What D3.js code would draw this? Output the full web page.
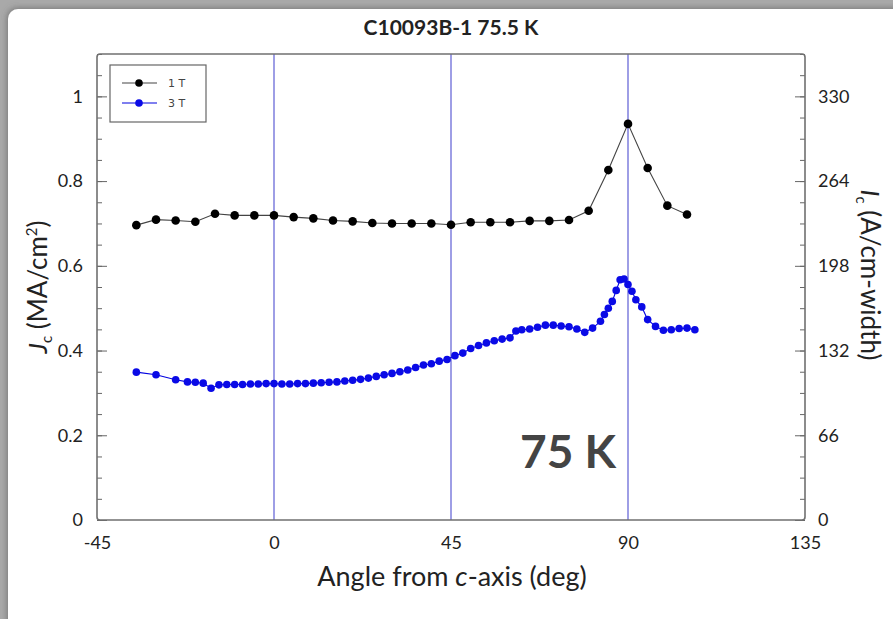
<!DOCTYPE html>
<html>
<head>
<meta charset="utf-8">
<script src="https://cdn.jsdelivr.net/npm/d3@7/dist/d3.min.js"></script>
<style>
  html, body { margin: 0; padding: 0; background: #ffffff; }
  svg { display: block; }
</style>
</head>
<body>
<svg id="chart" width="893" height="619"></svg>
<script>
// Critical current vs. field angle, sample C10093B-1 at 75.5 K
const angles1T = [-35, -30, -25, -20, -15, -10, -5, 0, 5, 10, 15, 20, 25, 30, 35,
                  40, 45, 50, 55, 60, 65, 70, 75, 80, 85, 90, 95, 100, 105];
const jc1T = [0.696, 0.709, 0.707, 0.704, 0.723, 0.719, 0.719, 0.719, 0.715, 0.712,
              0.707, 0.705, 0.701, 0.700, 0.700, 0.700, 0.697, 0.703, 0.703, 0.703,
              0.706, 0.706, 0.708, 0.730, 0.826, 0.935, 0.831, 0.742, 0.721];

const angles3T = [-35, -30, -25, -22, -20, -18, -16, -14, -12, -10, -8, -6, -4, -2, 0,
                  2, 4, 6, 8, 10, 12, 14, 16, 18, 20, 22, 24, 26, 28, 30,
                  32, 34, 36, 38, 40, 42, 44, 46, 48, 50, 52, 54, 56, 58, 60,
                  61.5, 63, 65, 67, 69, 71, 73, 75, 77, 79, 81, 83, 84, 85, 86,
                  87, 88, 89, 90, 91, 92, 93.5, 95, 97, 99, 101, 103, 105, 107];
const jc3T = [0.349, 0.343, 0.331, 0.326, 0.325, 0.323, 0.311, 0.319, 0.320, 0.320, 0.320, 0.321, 0.321, 0.322, 0.322,
              0.321, 0.321, 0.322, 0.322, 0.323, 0.324, 0.325, 0.326, 0.328, 0.330, 0.332, 0.335, 0.339, 0.343, 0.346,
              0.350, 0.354, 0.360, 0.366, 0.369, 0.375, 0.379, 0.388, 0.394, 0.405, 0.412, 0.418, 0.423, 0.427, 0.430,
              0.446, 0.449, 0.451, 0.455, 0.460, 0.460, 0.458, 0.456, 0.451, 0.443, 0.453, 0.469, 0.485, 0.500, 0.516,
              0.542, 0.567, 0.569, 0.556, 0.540, 0.520, 0.503, 0.473, 0.457, 0.448, 0.449, 0.452, 0.453, 0.449];

const xTicks = [-45, 0, 45, 90, 135];
const jcTicks = [0, 0.2, 0.4, 0.6, 0.8, 1];
const icTicks = [0, 66, 132, 198, 264, 330];
const guideAngles = [0, 45, 90];
const seriesNames = ["1 T", "3 T"];
const titleText = "C10093B-1 75.5 K";
const noteText = "75 K";

const svg = d3.select("#chart");
const W = 893, H = 619;
const plotL = 97, plotR = 805, plotT = 54, plotB = 520;
const font = "Lato, 'Open Sans', sans-serif";

// page backdrop with a soft shadowed card
const defs = svg.append("defs");
const sh = defs.append("filter").attr("id", "shadow").attr("x", "-5%").attr("y", "-5%").attr("width", "110%").attr("height", "110%");
sh.append("feGaussianBlur").attr("in", "SourceAlpha").attr("stdDeviation", 3).attr("result", "b");
sh.append("feOffset").attr("in", "b").attr("dx", -1).attr("dy", -1).attr("result", "o");
sh.append("feFlood").attr("flood-color", "#555").attr("flood-opacity", 0.6);
sh.append("feComposite").attr("in2", "o").attr("operator", "in");
const m = sh.append("feMerge");
m.append("feMergeNode");
m.append("feMergeNode").attr("in", "SourceGraphic");

svg.append("rect").attr("width", W).attr("height", H).attr("fill", "#a9a9a9");
svg.append("rect").attr("x", 8).attr("y", 9).attr("width", W + 20).attr("height", H + 20)
  .attr("rx", 10).attr("fill", "#ffffff").attr("filter", "url(#shadow)");

const x = d3.scaleLinear().domain([-45, 135]).range([plotL, plotR]);
const y = d3.scaleLinear().domain([0, 1.1]).range([plotB, plotT]);
const yR = d3.scaleLinear().domain([0, 363]).range([plotB, plotT]);

// vertical guides at 0, 45 and 90 degrees
svg.append("g").selectAll("line").data(guideAngles).join("line")
  .attr("x1", d => x(d)).attr("x2", d => x(d))
  .attr("y1", plotT).attr("y2", plotB)
  .attr("stroke", "#6a6ad8").attr("stroke-width", 1.3);

// minor ticks, both sides
const minorJ = d3.range(0, 1.1001, 0.05);
svg.append("g").attr("transform", `translate(${plotL},0)`)
  .call(d3.axisLeft(y).tickValues(minorJ).tickSize(-5).tickFormat(""))
  .call(g => g.select(".domain").remove())
  .call(g => g.selectAll("line").attr("stroke", "#666"));
const minorI = d3.range(0, 363.01, 16.5);
svg.append("g").attr("transform", `translate(${plotR},0)`)
  .call(d3.axisRight(yR).tickValues(minorI).tickSize(-5).tickFormat(""))
  .call(g => g.select(".domain").remove())
  .call(g => g.selectAll("line").attr("stroke", "#666"));

// major ticks with labels
const tickText = g => g.selectAll("text").attr("font-family", font).attr("font-size", 18).attr("fill", "#222");
svg.append("g").attr("transform", `translate(${plotL},0)`)
  .call(d3.axisLeft(y).tickValues(jcTicks).tickSize(-10).tickPadding(14).tickFormat(d => String(d)))
  .call(g => g.select(".domain").remove())
  .call(g => g.selectAll("line").attr("stroke", "#666"))
  .call(tickText);
svg.append("g").attr("transform", `translate(${plotR},0)`)
  .call(d3.axisRight(yR).tickValues(icTicks).tickSize(-10).tickPadding(13).tickFormat(d => String(d)))
  .call(g => g.select(".domain").remove())
  .call(g => g.selectAll("line").attr("stroke", "#666"))
  .call(tickText);
svg.append("g").attr("transform", `translate(0,${plotB})`)
  .call(d3.axisBottom(x).tickValues(xTicks).tickSize(0).tickPadding(16).tickFormat(d => String(d)))
  .call(g => g.select(".domain").remove())
  .call(tickText);

// plot frame
svg.append("rect").attr("x", plotL).attr("y", plotT).attr("width", plotR - plotL).attr("height", plotB - plotT)
  .attr("rx", 3).attr("fill", "none").attr("stroke", "#707070").attr("stroke-width", 1.6);

// series
const line = d3.line().x(d => x(d[0])).y(d => y(d[1]));
const s1 = angles1T.map((a, i) => [a, jc1T[i]]);
const s3 = angles3T.map((a, i) => [a, jc3T[i]]);

svg.append("path").datum(s1).attr("d", line).attr("fill", "none").attr("stroke", "#444").attr("stroke-width", 1.1);
svg.append("g").selectAll("circle").data(s1).join("circle")
  .attr("cx", d => x(d[0])).attr("cy", d => y(d[1])).attr("r", 4.3).attr("fill", "#000");

svg.append("path").datum(s3).attr("d", line).attr("fill", "none").attr("stroke", "#0000e0").attr("stroke-width", 1.1);
svg.append("g").selectAll("circle").data(s3).join("circle")
  .attr("cx", d => x(d[0])).attr("cy", d => y(d[1])).attr("r", 3.8).attr("fill", "#0a0ae6");

// legend
const lg = svg.append("g").attr("transform", "translate(110,65)");
lg.append("rect").attr("width", 96).attr("height", 57).attr("fill", "#fff").attr("stroke", "#666").attr("stroke-width", 1.2);
const lgColors = [["#444", "#000"], ["#0000e0", "#0a0ae6"]];
seriesNames.forEach((name, i) => {
  const ly = 18 + i * 20;
  lg.append("line").attr("x1", 12).attr("x2", 47).attr("y1", ly).attr("y2", ly).attr("stroke", lgColors[i][0]).attr("stroke-width", 1.1);
  lg.append("circle").attr("cx", 29).attr("cy", ly).attr("r", 3.8).attr("fill", lgColors[i][1]);
  lg.append("text").attr("x", 58).attr("y", ly + 4).attr("font-family", "'DejaVu Sans', Verdana, sans-serif")
    .attr("font-size", 11).attr("fill", "#444").text(name);
});

// title
svg.append("text").attr("x", 451).attr("y", 35).attr("text-anchor", "middle")
  .attr("font-family", font).attr("font-weight", 700).attr("font-size", 21).attr("fill", "#222").text(titleText);

// x-axis label
const xl = svg.append("text").attr("x", 452).attr("y", 586).attr("text-anchor", "middle")
  .attr("font-family", font).attr("font-size", 27).attr("fill", "#222");
xl.append("tspan").text("Angle from ");
xl.append("tspan").attr("font-style", "italic").text("c");
xl.append("tspan").text("-axis (deg)");

// left axis label
const yl = svg.append("text").attr("transform", "translate(47,287) rotate(-90)").attr("text-anchor", "middle")
  .attr("font-family", font).attr("font-size", 26).attr("fill", "#222");
yl.append("tspan").attr("font-style", "italic").text("J");
yl.append("tspan").attr("font-size", 15).attr("dy", 5).text("c");
yl.append("tspan").attr("dy", -5).text(" (MA/cm");
yl.append("tspan").attr("font-size", 15).attr("dy", -10).text("2");
yl.append("tspan").attr("dy", 10).text(")");

// right axis label
const yr = svg.append("text").attr("transform", "translate(861,275) rotate(90)").attr("text-anchor", "middle")
  .attr("font-family", font).attr("font-size", 26).attr("fill", "#222");
yr.append("tspan").attr("font-style", "italic").text("I");
yr.append("tspan").attr("font-size", 15).attr("dy", 5).text("c");
yr.append("tspan").attr("dy", -5).text(" (A/cm-width)");

// temperature note
svg.append("text").attr("x", 520).attr("y", 468).attr("font-family", font).attr("font-weight", 700)
  .attr("font-size", 46).attr("fill", "#444").text(noteText);
</script>
</body>
</html>
